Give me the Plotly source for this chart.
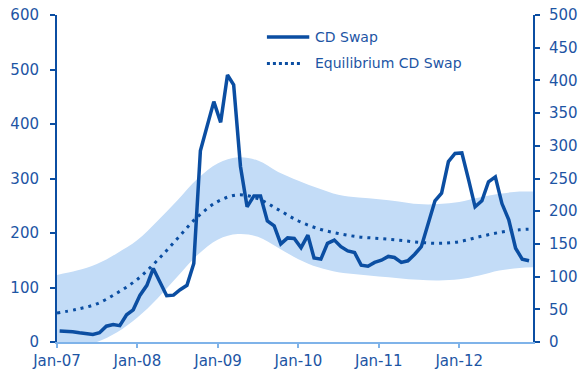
import plotly.graph_objects as go

# Monthly CD swap level (left axis units), Jan-2007 .. Nov-2012
cd_swap = [20, 20, 19, 17, 15, 14, 17, 29, 32, 30,
           50, 59, 86, 104, 135, 110, 85, 86, 96, 104,
           144, 351, 396, 441, 403, 490, 472, 322, 248, 268,
           268, 222, 213, 180, 191, 190, 173, 196, 154, 152,
           181, 187, 175, 167, 164, 141, 139, 146, 150, 157,
           155, 146, 149, 161, 175, 218, 259, 273, 331, 346,
           347, 297, 248, 259, 294, 303, 254, 224, 172, 152,
           149]
cd_dates = [f"{2007 + i // 12}-{i % 12 + 1:02d}-13" for i in range(len(cd_swap))]

# Equilibrium estimate and its band, sampled quarterly
eq_dates = ["2007-01-01", "2007-04-01", "2007-07-01", "2007-10-01",
            "2008-01-01", "2008-04-01", "2008-07-01", "2008-10-01",
            "2009-01-01", "2009-04-01", "2009-07-01", "2009-10-01",
            "2010-01-01", "2010-04-01", "2010-07-01", "2010-10-01",
            "2011-01-01", "2011-04-01", "2011-07-01", "2011-10-01",
            "2012-01-01", "2012-04-01", "2012-07-01", "2012-10-01",
            "2012-12-01"]
eq_swap = [53, 60, 70, 90, 115, 150, 190, 230, 258, 270, 263, 243,
           222, 208, 199, 193, 190, 187, 183, 181, 184, 193, 201, 206, 207]
band_upper = [123, 131, 143, 163, 187, 222, 260, 300, 328, 339, 333, 312,
              296, 282, 270, 265, 262, 258, 253, 253, 257, 265, 272, 276, 276]
band_lower = [-17, -10, 0, 18, 45, 80, 120, 160, 188, 198, 193, 173,
              152, 137, 128, 124, 120, 117, 114, 113, 115, 122, 131, 136, 137]

left_ticks = [0, 100, 200, 300, 400, 500, 600]
right_ticks = [0, 50, 100, 150, 200, 250, 300, 350, 400, 450, 500]

DARK = "#0b4ea2"
TEXT = "#1d55a4"
BAND = "#c3dcf7"
AXIS_LIGHT = "#7fb3e9"
FONT = "DejaVu Sans"

fig = go.Figure()

fig.add_trace(go.Scatter(x=eq_dates, y=band_lower, mode="lines",
                         line=dict(width=0, shape="spline", color=BAND),
                         showlegend=False, hoverinfo="skip"))
fig.add_trace(go.Scatter(x=eq_dates, y=band_upper, mode="lines",
                         line=dict(width=0, shape="spline", color=BAND),
                         fill="tonexty", fillcolor=BAND,
                         showlegend=False, hoverinfo="skip"))
fig.add_trace(go.Scatter(x=eq_dates, y=eq_swap, mode="lines",
                         name="Equilibrium CD Swap",
                         line=dict(color=DARK, width=3, dash="3px,5px", shape="spline"),
                         showlegend=False))
fig.add_trace(go.Scatter(x=cd_dates, y=cd_swap, mode="lines", name="CD Swap",
                         line=dict(color=DARK, width=3.5),
                         showlegend=False))
# anchors the right-hand axis
fig.add_trace(go.Scatter(x=[cd_dates[0]], y=[None], yaxis="y2",
                         showlegend=False, hoverinfo="skip"))

# legend drawn by hand: sample lines plus labels
fig.add_shape(type="line", xref="paper", yref="paper",
              x0=0.441, x1=0.530, y0=0.933, y1=0.933,
              line=dict(color=DARK, width=3.5))
fig.add_shape(type="line", xref="paper", yref="paper",
              x0=0.441, x1=0.516, y0=0.852, y1=0.852,
              line=dict(color=DARK, width=3, dash="3px,3px"))
fig.add_annotation(text="CD Swap", xref="paper", yref="paper",
                   x=0.537, y=0.933, xanchor="left", yanchor="middle",
                   showarrow=False, font=dict(family=FONT, size=14, color=TEXT))
fig.add_annotation(text="Equilibrium CD Swap", xref="paper", yref="paper",
                   x=0.537, y=0.852, xanchor="left", yanchor="middle",
                   showarrow=False, font=dict(family=FONT, size=14, color=TEXT))

fig.update_layout(
    width=579, height=370,
    margin=dict(l=57, r=46, t=15, b=28),
    paper_bgcolor="white", plot_bgcolor="white",
    font=dict(family=FONT, size=15, color=TEXT),
    xaxis=dict(
        type="date", range=["2007-01-01", "2012-12-01"],
        tick0="2007-01-01", dtick="M12", tickformat="%b-%y",
        showgrid=False, zeroline=False, automargin=False,
        showline=True, linecolor=AXIS_LIGHT, linewidth=1.5,
        ticks="outside", ticklen=4, tickcolor=AXIS_LIGHT, tickwidth=1.5,
        ticklabelstandoff=0,
        tickfont=dict(family=FONT, size=15, color=TEXT),
    ),
    yaxis=dict(
        range=[0, 600], tickvals=left_ticks,
        showgrid=False, zeroline=False, automargin=False,
        showline=True, linecolor=DARK, linewidth=2,
        ticks="outside", ticklen=5, tickcolor=DARK, tickwidth=1.5,
        ticklabelstandoff=8,
        tickfont=dict(family=FONT, size=15, color=TEXT),
    ),
    yaxis2=dict(
        range=[0, 500], tickvals=right_ticks, overlaying="y", side="right",
        showgrid=False, zeroline=False, automargin=False,
        showline=True, linecolor=DARK, linewidth=2,
        ticks="outside", ticklen=5, tickcolor=DARK, tickwidth=1.5,
        ticklabelstandoff=6,
        tickfont=dict(family=FONT, size=15, color=TEXT),
    ),
)

fig.write_html("out.html")
